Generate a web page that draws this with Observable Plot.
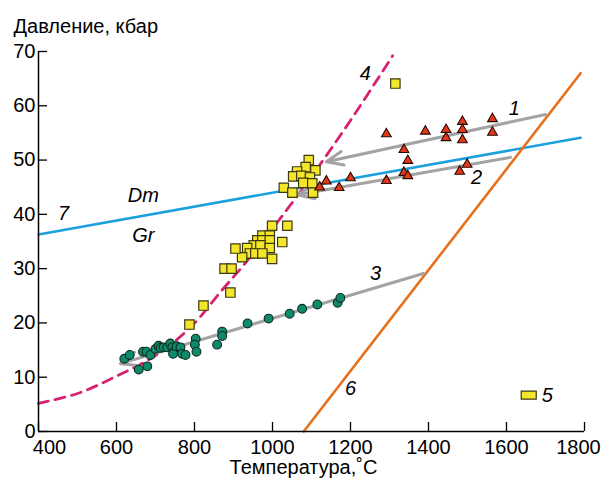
<!DOCTYPE html>
<html><head><meta charset="utf-8">
<script src="https://cdn.jsdelivr.net/npm/d3@7"></script>
<script src="https://cdn.jsdelivr.net/npm/@observablehq/plot@0.6"></script>
<style>body{margin:0;background:#fff;} #chart{position:relative;width:604px;height:484px;}</style>
</head><body><div id="chart"></div>
<script>
// Temperature (°C), pressure (kbar)
const xTicks = [400, 600, 800, 1000, 1200, 1400, 1600, 1800];
const yTicks = [0, 10, 20, 30, 40, 50, 60, 70];

const triangles = [
  [1292,54.8],[1392,55.3],[1445,55.6],[1445,54.1],[1487,57.1],[1487,55.6],[1487,53.7],
  [1564,57.6],[1564,55.1],[1337,51.9],[1347,49.9],[1337,47.7],[1347,47.1],[1292,46.2],
  [1200,46.7],[1138,46.1],[1121,45.0],[1171,44.9],[1480,47.9],[1499,49.2]
];
const squares = [
  [1315,64.1],
  [1093,50.0],[1085,48.7],[1110,48.1],[1063,47.9],[1053,47.0],[1074,47.1],[1096,46.8],
  [1079,45.8],[1102,45.7],[1029,44.9],[1051,44.0],[1104,44.0],
  [999,37.9],[1038,37.9],[1025,34.9],[999,31.8],
  [974,36.1],[993,36.1],[961,35.2],[974,35.2],[993,35.2],[952,34.3],[969,34.3],[993,33.8],
  [935,33.8],[942,32.8],[956,32.8],[974,32.8],[922,32.1],[905,33.7],
  [877,30.0],[895,30.0],[892,25.6],[823,23.2],[787,19.7]
];
const circles = [
  [620,13.4],[634,14.1],[657,11.4],[679,12.0],[668,14.7],[677,14.7],[687,14.1],[700,15.2],
  [708,15.8],[713,15.4],[721,15.5],[730,15.5],[738,16.2],[743,15.5],[747,14.7],[745,14.3],
  [754,15.7],[764,15.5],[768,14.3],[777,14.1],[803,17.1],[801,16.0],[805,14.7],[858,16.0],
  [871,18.4],[871,17.6],[936,19.9],[990,20.8],[1044,21.7],[1076,22.6],[1115,23.4],
  [1167,23.7],[1174,24.6]
];
// curve 4 (dashed)
const curve4 = [[400,5.2],[500,7.0],[600,10.2],[700,14.0],[790,19.2],[870,26],[930,31],[1030,40.2],[1120,49],[1200,57.3],[1308,69.2]];
// line 7 (Dm/Gr boundary) and line 6
const line7 = [[400,36.3],[1790,54.1]];
const line6 = [[1080,0],[1790,66]];
// arrows: [T1,P1,T2,P2]
const arrows = [
  [1700,58.4,1138,49.7],
  [1610,50.5,1064,43.6],
  [1387,29.1,610,12.5]
];
// text labels
const labels = [
  {t:"1",T:1620,P:59.5},{t:"2",T:1523,P:46.8},{t:"3",T:1264,P:29.1},{t:"4",T:1238,P:65.9},
  {t:"6",T:1200,P:7.9},{t:"7",T:464,P:40.1},{t:"Dm",T:669,P:43.5},{t:"Gr",T:669,P:36.1}
];
const legend = [{t:"5",T:1657,P:6.7}];

const rectSymbol = {draw(ctx){ ctx.moveTo(-7.5,-4); ctx.lineTo(7.5,-4); ctx.lineTo(7.5,4); ctx.lineTo(-7.5,4); ctx.closePath(); }};
const font = "Liberation Sans, Arial, sans-serif";

const plot = Plot.plot({
  width: 604, height: 484,
  marginLeft: 38, marginRight: 20, marginTop: 51, marginBottom: 53,
  x: {domain: [400, 1800], label: null},
  y: {domain: [0, 70], label: null},
  style: {fontFamily: font, fontSize: "20px", color: "#000", background: "#fff"},
  marks: [
    Plot.line(line7, {x: d=>d[0], y: d=>d[1], stroke: "#1ba0de", strokeWidth: 2.6}),
    Plot.line(line6, {x: d=>d[0], y: d=>d[1], stroke: "#e8701c", strokeWidth: 2.6}),
    Plot.line(curve4, {x: d=>d[0], y: d=>d[1], curve: "catmull-rom", stroke: "#d8226f", strokeWidth: 2.8, strokeDasharray: "10,7"}),
    Plot.arrow(arrows, {x1: d=>d[0], y1: d=>d[1], x2: d=>d[2], y2: d=>d[3], stroke: "#a3a3a3", strokeWidth: 3, headLength: 9, headAngle: 45, bend: 0}),
    Plot.dot(circles, {x: d=>d[0], y: d=>d[1], r: 4.4, fill: "#0e8a6b", stroke: "#0d2a20", strokeWidth: 1.1}),
    Plot.dot(squares, {x: d=>d[0], y: d=>d[1], symbol: "square", r: 5.3, fill: "#f4e62a", stroke: "#3c3810", strokeWidth: 1.2}),
    Plot.dot(triangles, {x: d=>d[0], y: d=>d[1], symbol: "triangle", r: 3.6, fill: "#e23a18", stroke: "#2a0800", strokeWidth: 1.1}),
    Plot.dot(legend, {x: "T", y: "P", symbol: rectSymbol, fill: "#f4e62a", stroke: "#3c3810", strokeWidth: 1.2}),
    Plot.text(legend, {x: "T", y: "P", text: "t", dx: 13, textAnchor: "start", fontSize: 20, fontStyle: "italic"}),
    Plot.text(labels, {x: "T", y: "P", text: "t", fontSize: 20, fontStyle: "italic"}),
    // axes
    Plot.ruleX([400], {y1: 0, y2: 70, stroke: "#000", strokeWidth: 1.5}),
    Plot.ruleY([0], {x1: 400, x2: 1800, stroke: "#000", strokeWidth: 1.5}),
    Plot.axisY({ticks: yTicks, tickSize: -9, text: null, label: null, stroke: "#000", strokeWidth: 1.3}),
    Plot.axisY({ticks: yTicks, tickSize: 0, tickPadding: 3, fontSize: 20, label: null, tickFormat: d=>String(d)}),
    Plot.axisX({ticks: xTicks, tickSize: -9, text: null, label: null, stroke: "#000", strokeWidth: 1.3}),
    Plot.axisX({ticks: xTicks.filter(d=>d!==400 && d!==1800), tickSize: 0, tickPadding: 8, fontSize: 20, label: null, tickFormat: d=>String(d)}),
    Plot.axisX({ticks: [400], tickSize: 0, tickPadding: 8, dx: 11, fontSize: 20, label: null, tickFormat: d=>String(d)}),
    Plot.axisX({ticks: [1800], tickSize: 0, tickPadding: 8, dx: -6, fontSize: 20, label: null, tickFormat: d=>String(d)}),
    Plot.text(["Давление, кбар"], {frameAnchor: "top-left", dx: -25, dy: -33, textAnchor: "start", fontSize: 20}),
    Plot.text(["Температура,˚С"], {frameAnchor: "bottom", dx: -8, dy: 42, fontSize: 20})
  ]
});
document.getElementById("chart").append(plot);
</script>
</body></html>
